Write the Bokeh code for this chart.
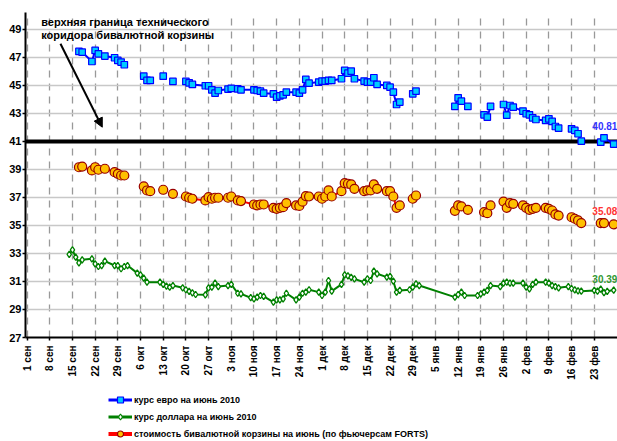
import math
import pandas as pd
from bokeh.plotting import figure
from bokeh.layouts import column
from bokeh.models import (FixedTicker, Range1d, Span, Arrow, NormalHead, Label,
                          Legend, LegendItem)
from bokeh.embed import file_html
from bokeh.resources import INLINE

FONT = "Liberation Sans"
ORIGIN = pd.Timestamp("2009-09-01")

tick_labels = ["1 сен", "8 сен", "15 сен", "22 сен", "29 сен", "6 окт", "13 окт",
               "20 окт", "27 окт", "3 ноя", "10 ноя", "17 ноя", "24 ноя", "1 дек",
               "8 дек", "15 дек", "22 дек", "29 дек", "5 янв", "12 янв", "19 янв",
               "26 янв", "2 фев", "9 фев", "16 фев", "23 фев"]
y_ticks = [27, 29, 31, 33, 35, 37, 39, 41, 43, 45, 47, 49]
corridor_top = 41

euro_dates = ["2009-09-17", "2009-09-18", "2009-09-21", "2009-09-22", "2009-09-23",
              "2009-09-25", "2009-09-28", "2009-09-29", "2009-09-30", "2009-10-01",
              "2009-10-02", "2009-10-07", "2009-10-08", "2009-10-09", "2009-10-12",
              "2009-10-13", "2009-10-14", "2009-10-16", "2009-10-19", "2009-10-20",
              "2009-10-21", "2009-10-22", "2009-10-26", "2009-10-27", "2009-10-28",
              "2009-10-29", "2009-10-30", "2009-11-02", "2009-11-03", "2009-11-05",
              "2009-11-06", "2009-11-10", "2009-11-11", "2009-11-12", "2009-11-13",
              "2009-11-16", "2009-11-17", "2009-11-18", "2009-11-19", "2009-11-20",
              "2009-11-23", "2009-11-24", "2009-11-25", "2009-11-26", "2009-11-27",
              "2009-11-30", "2009-12-01", "2009-12-02", "2009-12-03", "2009-12-04",
              "2009-12-07", "2009-12-08", "2009-12-09", "2009-12-10", "2009-12-11",
              "2009-12-14", "2009-12-15", "2009-12-16", "2009-12-17", "2009-12-18",
              "2009-12-21", "2009-12-22", "2009-12-23", "2009-12-24", "2009-12-25",
              "2009-12-26", "2009-12-29", "2009-12-30", "2009-12-31", "2010-01-11",
              "2010-01-12", "2010-01-13", "2010-01-14", "2010-01-15", "2010-01-18",
              "2010-01-20", "2010-01-21", "2010-01-22", "2010-01-25", "2010-01-26",
              "2010-01-27", "2010-01-28", "2010-01-29", "2010-02-01", "2010-02-02",
              "2010-02-03", "2010-02-04", "2010-02-05", "2010-02-08", "2010-02-09",
              "2010-02-10", "2010-02-11", "2010-02-12", "2010-02-15", "2010-02-16",
              "2010-02-17", "2010-02-18", "2010-02-19", "2010-02-22", "2010-02-25",
              "2010-02-26", "2010-03-01"]
euro_vals = [47.43, 47.38, 46.71, 47.50, 47.26,
             47.10, 46.98, 46.79, 46.67, 46.48,
             None, 45.66, 45.36, 45.36, None,
             45.66, None, 45.29, None, 45.29,
             45.19, 45.07, 44.98, 44.98, 44.69,
             44.45, 44.64, 44.74, 44.79, 44.76,
             44.69, 44.69, 44.64, 44.59, 44.45,
             44.40, 44.16, 44.26, 44.33, 44.52,
             44.52, 44.45, 44.69, 45.43, 45.16,
             45.24, 45.31, 45.31, 45.36, 45.36,
             45.48, 46.07, 45.88, 46.02, 45.48,
             45.31, 45.24, 45.24, 45.55, 45.07,
             45.00, 44.88, 44.52, 43.64, 43.81,
             None, 44.40, 44.59, None, 43.50,
             44.12, 43.88, None, 43.50, None,
             42.90, 42.74, 43.50, None, 43.64,
             42.88, 43.57, 43.45, 43.17, 42.98,
             42.90, 42.69, 42.57, 42.50, 42.62,
             42.43, 42.07, 41.95, None, 41.90,
             41.79, 41.55, 41.02, None, 40.95,
             41.26, 40.81]

basket_dates = euro_dates
basket_vals = [39.16, 39.21, 38.93, 39.16, 38.98,
               39.05, 38.81, 38.69, 38.57, 38.57,
               None, 37.79, 37.50, 37.45, None,
               37.55, None, 37.26, None, 37.07,
               36.98, 36.91, 36.79, 37.02, 36.91,
               36.98, 36.98, 36.98, 37.07, 36.79,
               36.74, 36.50, 36.43, 36.50, 36.50,
               36.26, 36.19, 36.26, 36.31, 36.60,
               36.43, 36.40, 36.70, 37.10, 37.07,
               37.07, 36.91, 37.07, 37.50, 37.07,
               37.45, 38.02, 37.98, 37.93, 37.62,
               37.45, 37.50, 37.50, 37.93, 37.62,
               37.45, 37.45, 37.07, 36.26, 36.43,
               None, 36.91, 37.14, None, 36.05,
               36.43, 36.36, None, 36.12, None,
               35.95, 35.88, 36.43, None, 36.71,
               36.26, 36.60, 36.55, 36.43, 36.26,
               36.12, 36.19, 36.26, 36.26, 36.19,
               36.07, 35.79, 35.71, None, 35.59,
               35.48, 35.36, 35.17, None, 35.17,
               35.17, 35.08]

usd_dates = ["2009-09-14", "2009-09-15", "2009-09-16", "2009-09-17", "2009-09-18",
             "2009-09-21", "2009-09-22", "2009-09-23", "2009-09-24", "2009-09-25",
             "2009-09-28", "2009-09-29", "2009-09-30", "2009-10-01", "2009-10-02",
             "2009-10-05", "2009-10-06", "2009-10-07", "2009-10-08", "2009-10-12",
             "2009-10-13", "2009-10-14", "2009-10-15", "2009-10-16", "2009-10-19",
             "2009-10-20", "2009-10-21", "2009-10-22", "2009-10-23", "2009-10-26",
             "2009-10-27", "2009-10-28", "2009-10-29", "2009-10-30", "2009-11-02",
             "2009-11-03", "2009-11-05", "2009-11-06", "2009-11-09", "2009-11-10",
             "2009-11-11", "2009-11-12", "2009-11-13", "2009-11-16", "2009-11-17",
             "2009-11-18", "2009-11-19", "2009-11-20", "2009-11-23", "2009-11-24",
             "2009-11-25", "2009-11-26", "2009-11-27", "2009-11-30", "2009-12-01",
             "2009-12-02", "2009-12-03", "2009-12-04", "2009-12-07", "2009-12-08",
             "2009-12-09", "2009-12-10", "2009-12-11", "2009-12-14", "2009-12-15",
             "2009-12-16", "2009-12-17", "2009-12-18", "2009-12-21", "2009-12-22",
             "2009-12-23", "2009-12-24", "2009-12-25", "2009-12-28", "2009-12-29",
             "2009-12-30", "2009-12-31", "2010-01-11", "2010-01-12", "2010-01-13",
             "2010-01-14", "2010-01-18", "2010-01-19", "2010-01-20", "2010-01-21",
             "2010-01-22", "2010-01-25", "2010-01-26", "2010-01-27", "2010-01-28",
             "2010-01-29", "2010-02-01", "2010-02-02", "2010-02-03", "2010-02-04",
             "2010-02-05", "2010-02-08", "2010-02-09", "2010-02-10", "2010-02-11",
             "2010-02-12", "2010-02-15", "2010-02-16", "2010-02-17", "2010-02-18",
             "2010-02-19", "2010-02-23", "2010-02-24", "2010-02-25", "2010-02-26",
             "2010-02-27", "2010-03-01"]
usd_vals = [32.93, 33.26, 32.74, 32.33, 32.55,
            32.62, 32.26, 32.07, 32.14, 32.45,
            32.14, 32.14, 31.91, 32.07, 32.14,
            31.60, 31.48, 31.24, 30.95, 30.95,
            30.79, 30.67, 30.60, 30.71, 30.55,
            30.41, 30.29, 30.19, 30.07, 30.05,
            30.55, 30.60, 30.88, 30.64, 30.71,
            30.79, 30.16, 30.12, 29.84, 29.76,
            29.88, 30.00, 29.93, 29.52, 29.69,
            29.69, 29.76, 30.16, 29.69, 29.88,
            30.16, 30.24, 30.41, 30.24, 30.00,
            30.24, 31.07, 30.31, 30.79, 31.48,
            31.40, 31.30, 31.19, 30.95, 31.19,
            31.07, 31.74, 31.55, 31.31, 31.36,
            31.02, 30.24, 30.36, 30.41, 30.60,
            30.83, 30.71, 29.88, 30.07, 30.24,
            30.00, 30.00, 30.12, 30.24, 30.36,
            30.71, 30.64, 30.88, 30.95, 30.88,
            30.88, 30.88, 30.60, 30.48, 30.79,
            30.95, 30.95, 30.88, 30.71, 30.64,
            30.55, 30.64, 30.50, 30.40, 30.33,
            30.31, 30.36, 30.31, 30.45, 30.20,
            30.30, 30.39]

legend_labels = ["курс евро на июнь 2010", "курс доллара на июнь 2010",
                 "стоимость бивалютной корзины на июнь (по фьючерсам FORTS)"]
note_lines = ["верхняя граница технического", "коридора бивалютной корзины"]


def to_days(dates):
    return [(pd.Timestamp(d) - ORIGIN).days for d in dates]


def to_num(vals):
    return [float("nan") if v is None else v for v in vals]


ex, ey = to_days(euro_dates), to_num(euro_vals)
bx, by = to_days(basket_dates), to_num(basket_vals)
ux, uy = to_days(usd_dates), to_num(usd_vals)
x_ticks = [7 * i for i in range(len(tick_labels))]

EURO = dict(line="#0000ff", fill="#00ccff", edge="#0000ff", marker="square")
USD = dict(line="#008000", fill="white", edge="#008000", marker="diamond")
BASKET = dict(line="#ff0000", fill="#ffc000", edge="#990000", marker="circle")

# ---------------- main chart ----------------
p = figure(width=617, height=390, output_backend="svg", toolbar_location=None,
           x_range=Range1d(-0.49, 182.17), y_range=Range1d(27, 50.21),
           min_border_left=25, min_border_right=0, min_border_top=12,
           min_border_bottom=53)
p.outline_line_color = None
p.background_fill_color = "white"

p.xaxis.ticker = FixedTicker(ticks=x_ticks)
p.xaxis.major_label_overrides = {t: l for t, l in zip(x_ticks, tick_labels)}
p.xaxis.major_label_orientation = math.pi / 2
p.yaxis.ticker = FixedTicker(ticks=y_ticks)
for ax in (p.xaxis, p.yaxis):
    ax.axis_line_width = 2
    ax.axis_line_color = "black"
    ax.major_tick_line_color = "black"
    ax.major_tick_line_width = 1.5
    ax.major_tick_in = 0
    ax.major_tick_out = 3
    ax.minor_tick_line_color = None
    ax.major_label_text_font = FONT
    ax.major_label_text_font_style = "bold"
    ax.major_label_text_color = "black"
p.xaxis.major_label_text_font_size = "10px"
p.xaxis.major_label_standoff = 5
p.yaxis.major_label_text_font_size = "11px"
p.yaxis.major_label_standoff = 1

p.ygrid.ticker = FixedTicker(ticks=y_ticks)
p.ygrid.grid_line_color = "#c8c8c8"
p.ygrid.grid_line_width = 1.5
p.xgrid.ticker = FixedTicker(ticks=x_ticks)
p.xgrid.grid_line_color = "#999999"
p.xgrid.grid_line_width = 1.3
p.xgrid.grid_line_dash = "7 6"

p.add_layout(Span(location=corridor_top, dimension="width", line_color="black",
                  line_width=4, level="underlay"))

p.line(ux, uy, line_color=USD["line"], line_width=2)
p.scatter(ux, uy, marker=USD["marker"], size=6.5, fill_color=USD["fill"],
          line_color=USD["edge"], line_width=1.3)
p.line(bx, by, line_color=BASKET["line"], line_width=2)
p.scatter(bx, by, marker=BASKET["marker"], size=9, fill_color=BASKET["fill"],
          line_color=BASKET["edge"], line_width=1.2)
p.line(ex, ey, line_color=EURO["line"], line_width=2)
p.scatter(ex, ey, marker=EURO["marker"], size=6.5, fill_color=EURO["fill"],
          line_color=EURO["edge"], line_width=1.2)

for i, line in enumerate(note_lines):
    p.add_layout(Label(x=4.35, y=49.52 - 0.95 * i, text=line, text_font=FONT,
                       text_font_style="bold", text_font_size="11px",
                       text_color="black", text_baseline="alphabetic"))
p.add_layout(Arrow(x_start=10.3, y_start=47.98, x_end=23.2, y_end=42.02,
                   line_color="black", line_width=2,
                   end=NormalHead(size=9, fill_color="black", line_color="black")))

for val, yv, col in ((euro_vals[-1], 42.14, "#3333ff"),
                     (basket_vals[-1], 36.04, "#ff3333"),
                     (usd_vals[-1], 31.21, "#339933")):
    p.add_layout(Label(x=174.4, y=yv, text=f"{val:.2f}", text_font=FONT,
                       text_font_style="bold", text_font_size="10px",
                       text_color=col, text_baseline="middle"))

# ---------------- legend strip ----------------
q = figure(width=617, height=51, output_backend="svg", toolbar_location=None,
           x_range=Range1d(0, 1), y_range=Range1d(0, 1),
           x_axis_location=None, y_axis_location=None,
           min_border_left=0, min_border_right=0, min_border_top=0,
           min_border_bottom=0)
q.outline_line_color = None
q.grid.visible = False

items = []
for label, st, lw, ms in ((legend_labels[0], EURO, 3, 7),
                          (legend_labels[1], USD, 3, 7),
                          (legend_labels[2], BASKET, 4, 9)):
    rl = q.line([float("nan")], [float("nan")], line_color=st["line"], line_width=lw)
    rs = q.scatter([float("nan")], [float("nan")], marker=st["marker"], size=ms,
                   fill_color=st["fill"], line_color=st["edge"], line_width=1.2)
    items.append(LegendItem(label=label, renderers=[rl, rs]))

legend = Legend(items=items, location=(83, 0))
legend.background_fill_alpha = 0
legend.border_line_alpha = 0
legend.padding = 0
legend.margin = 0
legend.spacing = 2
legend.glyph_width = 24
legend.glyph_height = 15
legend.label_height = 15
legend.label_standoff = 2
legend.label_text_font = FONT
legend.label_text_font_style = "bold"
legend.label_text_font_size = "9px"
legend.label_text_color = "black"
q.add_layout(legend)

layout = column(p, q, spacing=0)
open("out.html", "w").write(file_html(layout, INLINE))
